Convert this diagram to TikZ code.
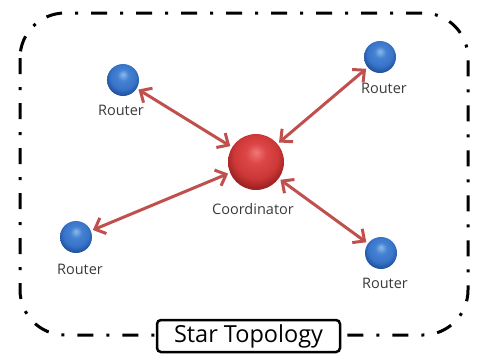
\documentclass[tikz,border=0pt]{standalone}
\usepackage{fontspec}
\setmainfont{Open Sans}
\usetikzlibrary{arrows.meta}
\definecolor{arrowred}{HTML}{C0504D}
\definecolor{labelgray}{HTML}{3A3A3A}
\pgfdeclareradialshading{bluesphere}{\pgfpoint{0bp}{9bp}}{%
  color(0bp)=(rgb,255:red,140;green,185;blue,235);
  color(9bp)=(rgb,255:red,70;green,130;blue,210);
  color(20bp)=(rgb,255:red,55;green,115;blue,200);
  color(27bp)=(rgb,255:red,35;green,85;blue,160);
  color(50bp)=(rgb,255:red,35;green,85;blue,160)}
\pgfdeclareradialshading{redsphere}{\pgfpoint{0bp}{9bp}}{%
  color(0bp)=(rgb,255:red,240;green,120;blue,120);
  color(9bp)=(rgb,255:red,220;green,70;blue,70);
  color(20bp)=(rgb,255:red,205;green,55;blue,55);
  color(27bp)=(rgb,255:red,160;green,35;blue,35);
  color(50bp)=(rgb,255:red,160;green,35;blue,35)}
\tikzset{
  router/.style={circle, minimum size=32pt, inner sep=0pt, shading=bluesphere},
  coord/.style={circle, minimum size=56pt, inner sep=0pt, shading=redsphere},
  lbl/.style={font=\fontsize{14.5}{16}\selectfont, text=labelgray, inner sep=0pt},
  link/.style={draw=arrowred, line width=3pt, {Straight Barb[length=9pt,width=17pt]}-{Straight Barb[length=9pt,width=17pt]}, shorten >=2pt, shorten <=2pt},
  frame/.style={draw=black, line width=3pt, dash pattern=on 16pt off 13pt on 3pt off 13pt, rounded corners=45pt},
  titlebox/.style={draw=black, fill=white, line width=2.5pt, rounded corners=4pt, minimum width=183pt, minimum height=32pt, inner sep=0pt, font=\fontsize{23.5}{25}\selectfont}
}
\begin{document}
\begin{tikzpicture}[x=1pt,y=-1pt]
\useasboundingbox (0,0) rectangle (477,357);
\draw[frame] (20,13) rectangle (468,335);
\node[router] (tl) at (123,80) {};
\node[router] (tr) at (380,57) {};
\node[router] (bl) at (76,237) {};
\node[router] (br) at (381,253) {};
\node[coord] (c) at (256,162) {};
\node[lbl] (tll) at (121,110) {Router};
\node[lbl] (trl) at (384,88) {Router};
\node[lbl] (bll) at (80,269) {Router};
\node[lbl] (brl) at (385,283) {Router};
\node[lbl] (cl) at (253,209) {Coordinator};
\draw[link] (tl) -- (c);
\draw[link] (tr) -- (c);
\draw[link] (bl) -- (c);
\draw[link] (br) -- (c);
\node[titlebox] (title) at (248.5,336) {Star Topology};
\end{tikzpicture}
\end{document}
